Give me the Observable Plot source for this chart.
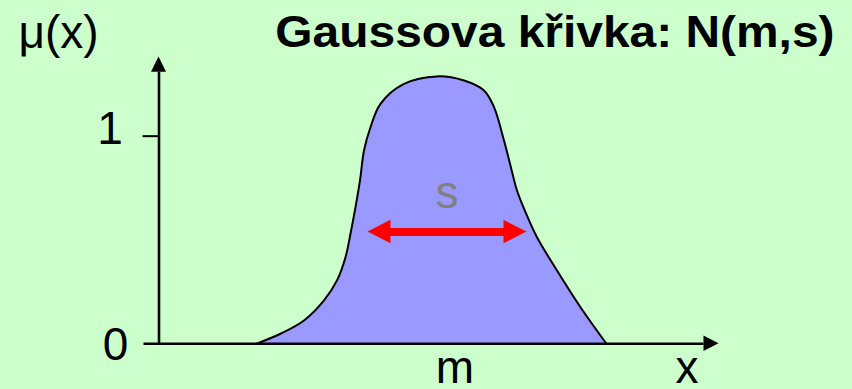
<!DOCTYPE html>
<html>
<head>
<meta charset="utf-8">
<script src="https://cdn.jsdelivr.net/npm/d3@7"></script>
<script src="https://cdn.jsdelivr.net/npm/@observablehq/plot@0.6"></script>
<style>
  html, body { margin: 0; padding: 0; background: #CCFFCC; }
  #chart { width: 852px; height: 389px; overflow: hidden; }
</style>
</head>
<body>
<div id="chart"></div>
<script>
// Curve μ(x) (x in abstract units, μ in [0, ~1.3])
const curveX = [1.95, 2.43, 2.90, 3.30, 3.56, 3.73, 3.83, 3.93, 4.02, 4.10, 4.23, 4.43, 4.90, 5.56, 6.10, 6.50, 6.70, 6.90, 7.03, 7.16, 7.33, 7.56, 7.96, 8.43, 8.95];
const curveY = [0, 0.048, 0.112, 0.209, 0.305, 0.417, 0.530, 0.658, 0.787, 0.931, 1.043, 1.156, 1.252, 1.288, 1.268, 1.220, 1.140, 0.979, 0.858, 0.738, 0.634, 0.513, 0.353, 0.176, 0];

// Axes extents (data units)
const xAxisStart = -0.3, xAxisEnd = 11.2;
const yAxisEnd = 1.381;
const yTicks = [1];
const tickLen = 0.32;

// Width arrow (s) at height μ = 0.538
const sArrowY = 0.538, sArrowFrom = 4.18, sArrowTo = 7.36;

// Labels
const labelText = ["1", "0", "m", "x"];
const labelX = [-0.98, -0.87, 5.92, 10.56];
const labelY = [0.96, -0.080, -0.191, -0.191];
const sLabel = "s", sLabelX = 5.76, sLabelY = 0.652;
const yTitle = "μ(x)", yTitleX = -2.81, yTitleY = 1.424;
const title = "Gaussova křivka: N(m,s)", titleX = 13.51, titleY = 1.429;

const curve = curveX.map((x, i) => ({x, y: curveY[i]}));
const labels = labelText.map((t, i) => ({t, x: labelX[i], y: labelY[i]}));

// arrowhead geometry in data units
const headX = 0.30, headXHalf = 0.0376;      // x-axis arrowhead
const headY = 0.073, headYHalf = 0.15;       // y-axis arrowhead
const sHead = 0.46, sHeadHalf = 0.0564;      // red arrow heads

const plot = Plot.plot({
  width: 852,
  height: 389,
  margin: 0,
  x: {domain: [-3.17, 13.87], axis: null},
  y: {domain: [-0.2206, 1.6537], axis: null},
  style: {background: "#CCFFCC", fontFamily: "'Liberation Sans', Arial, sans-serif", overflow: "visible"},
  marks: [
    Plot.areaY(curve, {x: "x", y: "y", fill: "#9999FF", curve: "catmull-rom"}),
    Plot.lineY(curve, {x: "x", y: "y", stroke: "black", strokeWidth: 2, curve: "catmull-rom"}),
    // x axis
    Plot.ruleY([{y: 0, x1: xAxisStart, x2: xAxisEnd - headX}], {y: "y", x1: "x1", x2: "x2", stroke: "black", strokeWidth: 2.6}),
    Plot.areaY([{x: xAxisEnd - headX, y1: -headXHalf, y2: headXHalf}, {x: xAxisEnd, y1: 0, y2: 0}], {x: "x", y1: "y1", y2: "y2", fill: "black"}),
    // y axis
    Plot.ruleX([{x: 0, y1: 0, y2: yAxisEnd - headY}], {x: "x", y1: "y1", y2: "y2", stroke: "black", strokeWidth: 2.6}),
    Plot.areaX([{y: yAxisEnd - headY, x1: -headYHalf, x2: headYHalf}, {y: yAxisEnd, x1: 0, x2: 0}], {y: "y", x1: "x1", x2: "x2", fill: "black"}),
    // y tick
    Plot.ruleY(yTicks, {y: d => d, x1: -tickLen, x2: 0, stroke: "black", strokeWidth: 2}),
    // red double arrow
    Plot.ruleY([{y: sArrowY, x1: sArrowFrom + sHead - 0.02, x2: sArrowTo - sHead + 0.02}], {y: "y", x1: "x1", x2: "x2", stroke: "#FF0000", strokeWidth: 8}),
    Plot.areaY([{x: sArrowFrom, y1: sArrowY, y2: sArrowY}, {x: sArrowFrom + sHead, y1: sArrowY - sHeadHalf, y2: sArrowY + sHeadHalf}], {x: "x", y1: "y1", y2: "y2", fill: "#FF0000"}),
    Plot.areaY([{x: sArrowTo - sHead, y1: sArrowY - sHeadHalf, y2: sArrowY + sHeadHalf}, {x: sArrowTo, y1: sArrowY, y2: sArrowY}], {x: "x", y1: "y1", y2: "y2", fill: "#FF0000"}),
    // labels
    Plot.text(labels, {x: "x", y: "y", text: "t", fontSize: 46, lineAnchor: "bottom", fill: "black"}),
    Plot.text([sLabel], {x: [sLabelX], y: [sLabelY], text: d => d, fontSize: 46, lineAnchor: "bottom", fill: "#808080"}),
    Plot.text([yTitle], {x: [yTitleX], y: [yTitleY], text: d => d, fontSize: 46, lineAnchor: "bottom", textAnchor: "start", fill: "black"}),
    Plot.text([title], {x: [titleX], y: [titleY], text: d => d, fontSize: 45, fontWeight: "bold", lineAnchor: "bottom", textAnchor: "end", fill: "black"})
  ]
});
// widen the bold title slightly, as in the reference lettering
d3.select(plot).selectAll("text").filter(function() { return this.textContent === title; })
  .attr("transform", function() { return (this.getAttribute("transform") || "") + " scale(1.065,1)"; });
document.getElementById("chart").append(plot);
</script>
</body>
</html>
